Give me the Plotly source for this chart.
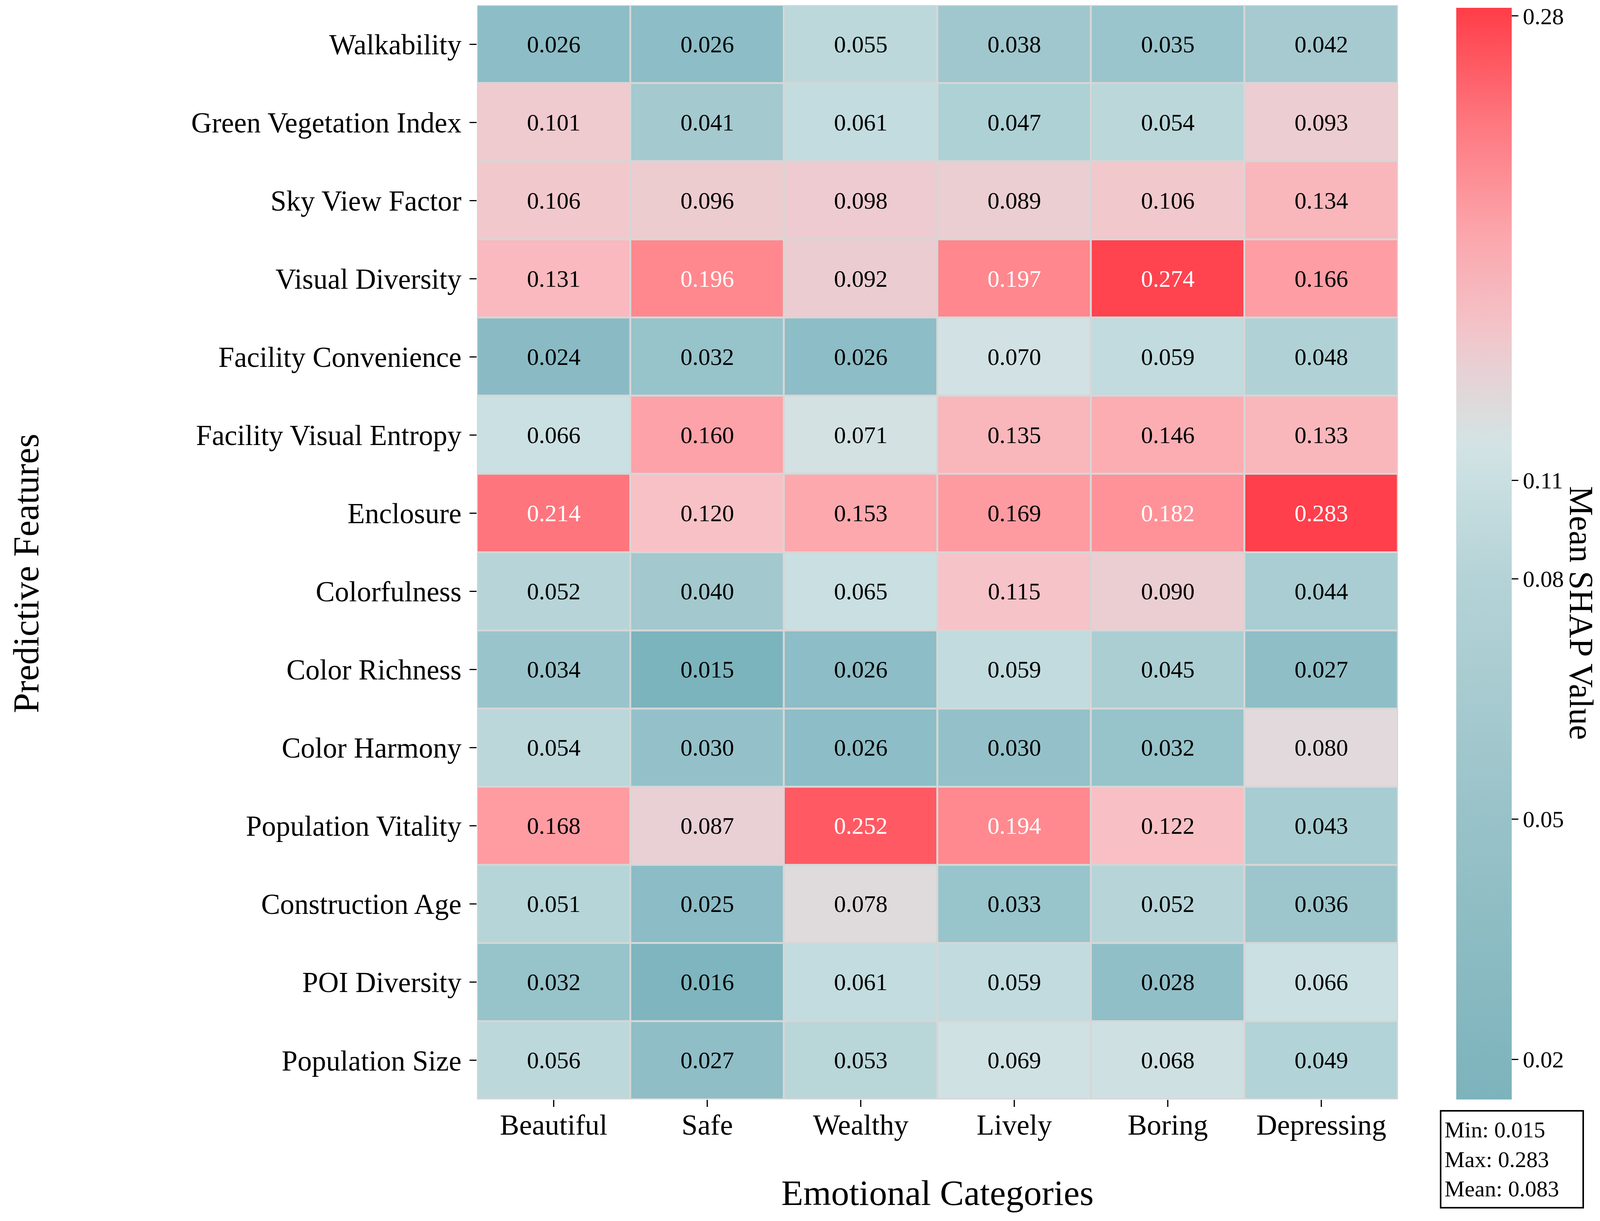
import numpy as np
import plotly.graph_objects as go

# data
categories = ["Beautiful", "Safe", "Wealthy", "Lively", "Boring", "Depressing"]
features = ["Walkability", "Green Vegetation Index", "Sky View Factor", "Visual Diversity",
            "Facility Convenience", "Facility Visual Entropy", "Enclosure", "Colorfulness",
            "Color Richness", "Color Harmony", "Population Vitality", "Construction Age",
            "POI Diversity", "Population Size"]

walkability = [0.026, 0.026, 0.055, 0.038, 0.035, 0.042]
green_vegetation = [0.101, 0.041, 0.061, 0.047, 0.054, 0.093]
sky_view = [0.106, 0.096, 0.098, 0.089, 0.106, 0.134]
visual_diversity = [0.131, 0.196, 0.092, 0.197, 0.274, 0.166]
facility_convenience = [0.024, 0.032, 0.026, 0.070, 0.059, 0.048]
facility_entropy = [0.066, 0.160, 0.071, 0.135, 0.146, 0.133]
enclosure = [0.214, 0.120, 0.153, 0.169, 0.182, 0.283]
colorfulness = [0.052, 0.040, 0.065, 0.115, 0.090, 0.044]
color_richness = [0.034, 0.015, 0.026, 0.059, 0.045, 0.027]
color_harmony = [0.054, 0.030, 0.026, 0.030, 0.032, 0.080]
population_vitality = [0.168, 0.087, 0.252, 0.194, 0.122, 0.043]
construction_age = [0.051, 0.025, 0.078, 0.033, 0.052, 0.036]
poi_diversity = [0.032, 0.016, 0.061, 0.059, 0.028, 0.066]
population_size = [0.056, 0.027, 0.053, 0.069, 0.068, 0.049]

cbar_ticks = [0.02, 0.05, 0.08, 0.11, 0.28]

z = np.array([walkability, green_vegetation, sky_view, visual_diversity, facility_convenience,
              facility_entropy, enclosure, colorfulness, color_richness, color_harmony,
              population_vitality, construction_age, poi_diversity, population_size])
zmin, zmax, zmean = z.min(), z.max(), z.mean()

FONT = "Liberation Serif, Times New Roman, serif"

# cell colours, picked along the value axis
cell_stops = [
    (0.015, "#7cb4bd"), (0.024, "#8abbc5"), (0.032, "#97c3ca"), (0.041, "#a4c9cf"),
    (0.048, "#b0d2d6"), (0.054, "#bbd7da"), (0.061, "#c3dcdf"), (0.066, "#cbe0e2"),
    (0.071, "#d4e1e3"), (0.078, "#dfdbdd"), (0.089, "#eaced2"), (0.101, "#efcacf"),
    (0.120, "#f8c1c5"), (0.135, "#f9b6bb"), (0.153, "#fda8ad"), (0.169, "#fe9ba1"),
    (0.196, "#ff888e"), (0.214, "#ff757d"), (0.252, "#ff5a63"), (0.274, "#ff434f"),
    (0.283, "#ff3f4b"),
]
cell_scale = [[(v - zmin) / (zmax - zmin), c] for v, c in cell_stops]
cell_scale[0][0] = 0.0
cell_scale[-1][0] = 1.0

# colour bar look (two-slope norm around the mean)
cbar_scale = [
    [0.0, "#7db3bc"], [0.257, "#98c2c8"], [0.478, "#b5d3d7"], [0.567, "#c9dfe1"],
    [0.600, "#d3e3e5"], [0.630, "#dcdcdd"], [0.665, "#e6d2d5"], [0.708, "#f3c3c8"],
    [0.793, "#fba6ac"], [0.893, "#fe7880"], [1.0, "#ff3d48"],
]


def two_slope(v):
    if v <= zmean:
        return 0.5 * (v - zmin) / (zmean - zmin)
    return 0.5 + 0.5 * (v - zmean) / (zmax - zmean)


fig = go.Figure()
fig.add_trace(go.Heatmap(
    z=z, x=categories, y=features, colorscale=cell_scale, zmin=zmin, zmax=zmax,
    xgap=5, ygap=5, showscale=False, hoverinfo="skip"))

fig.add_trace(go.Scatter(
    x=[categories[0]], y=[features[0]], mode="markers", hoverinfo="skip", showlegend=False,
    marker=dict(size=1, opacity=0, color=[0.5], colorscale=cbar_scale, cmin=0, cmax=1,
                showscale=True,
                colorbar=dict(thickness=142, thicknessmode="pixels", len=2794, lenmode="pixels",
                              x=1.0632, xanchor="left", y=0, yanchor="bottom", xpad=0, ypad=0,
                              outlinewidth=0, ticks="outside", ticklen=17, tickwidth=3,
                              tickcolor="black",
                              tickvals=[two_slope(v) for v in cbar_ticks],
                              ticktext=["%.2f" % v for v in cbar_ticks],
                              tickfont=dict(family=FONT, size=60, color="black")))))

annotations = []
for i, feat in enumerate(features):
    for j, cat in enumerate(categories):
        v = z[i, j]
        annotations.append(dict(x=cat, y=feat, xref="x", yref="y", text="%.3f" % v,
                                showarrow=False, xanchor="center", yanchor="middle",
                                font=dict(family=FONT, size=61,
                                          color="white" if v > 0.175 else "black")))

annotations.append(dict(x=0.5, y=-0.0853, xref="paper", yref="paper", text="Emotional Categories",
                        xanchor="center", yanchor="middle", showarrow=False,
                        font=dict(family=FONT, size=92, color="black")))
annotations.append(dict(x=-0.4898, y=0.4805, xref="paper", yref="paper", text="Predictive Features",
                        xanchor="center", yanchor="middle", textangle=-90, showarrow=False,
                        font=dict(family=FONT, size=93, color="black")))
annotations.append(dict(x=1.1989, y=0.4445, xref="paper", yref="paper", text="Mean SHAP Value",
                        xanchor="center", yanchor="middle", textangle=90, showarrow=False,
                        font=dict(family=FONT, size=86, color="black")))
annotations.append(dict(x=1.1238, y=-0.0546, xref="paper", yref="paper",
                        text="Min: %.3f<br>Max: %.3f<br>Mean: %.3f" % (zmin, zmax, zmean),
                        xanchor="center", yanchor="middle",
                        showarrow=False, align="left", width=345, height=228,
                        bordercolor="black", borderwidth=4, borderpad=8, bgcolor="white",
                        font=dict(family=FONT, size=58, color="black")))

# page body has an 8px margin, keep the figure inside the window
fig.update_layout(
    width=4147, height=3109,
    margin=dict(l=1213, r=576, t=5, b=303),
    paper_bgcolor="white", plot_bgcolor="#d6d6d6",
    font=dict(family=FONT, color="black"),
    annotations=annotations,
    showlegend=False,
)
fig.update_xaxes(range=[-0.5, 5.5], ticks="outside", ticklen=18, tickwidth=3, tickcolor="black",
                 tickfont=dict(family=FONT, size=74), showgrid=False, zeroline=False,
                 showline=False, ticklabelstandoff=-18)
fig.update_yaxes(range=[13.5, -0.5], ticks="outside", ticklen=18, tickwidth=3, tickcolor="black",
                 tickfont=dict(family=FONT, size=73), showgrid=False, zeroline=False,
                 showline=False, ticklabelstandoff=6)

fig.write_html("out.html")
